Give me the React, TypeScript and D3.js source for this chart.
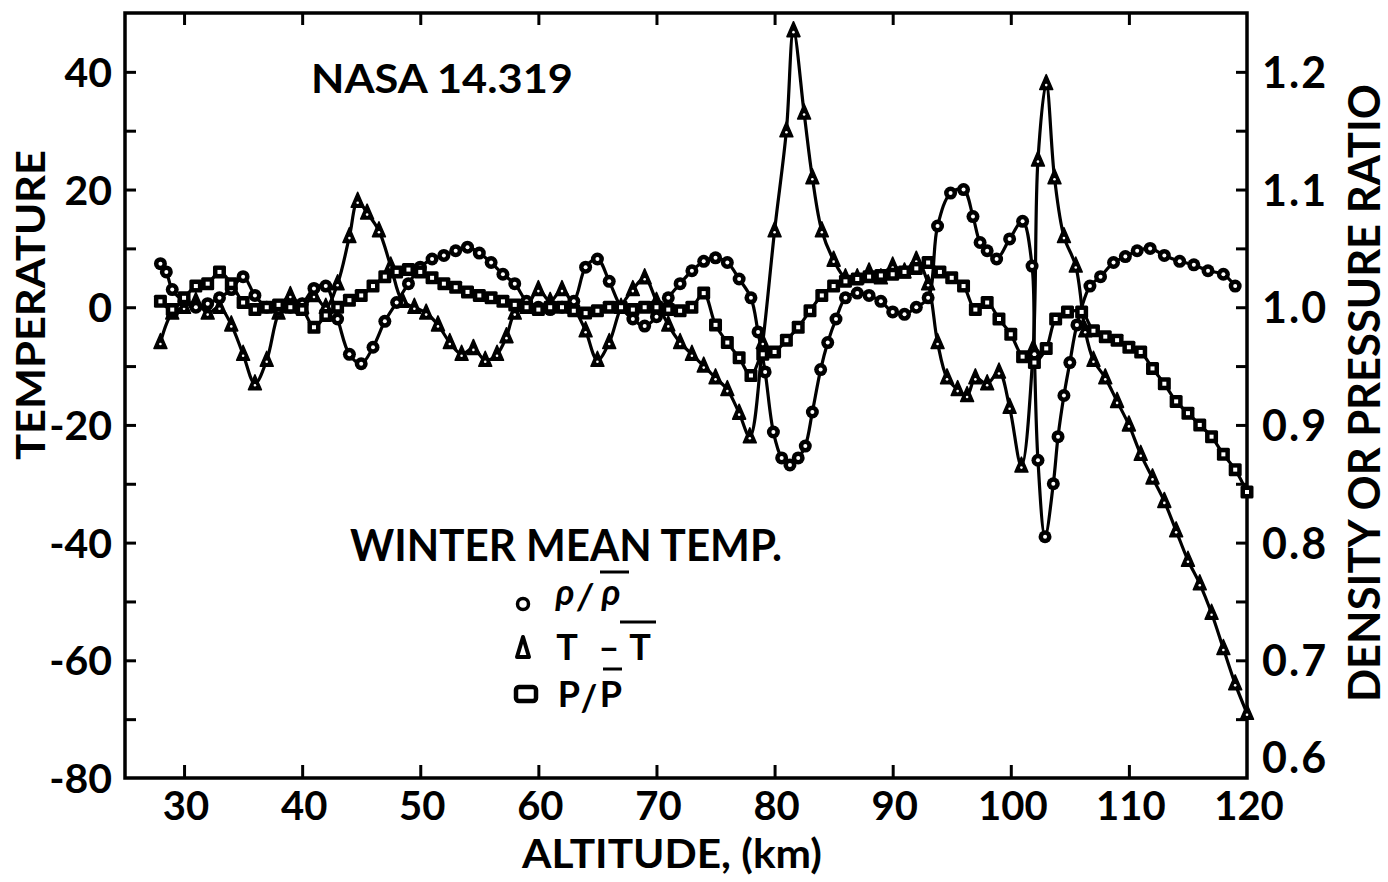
import React, { useEffect, useRef } from "react";
import * as d3 from "d3";

const W = 1388;
const H = 882;

// T - Tbar (deg), triangles, read on the left axis
const tempAlt = [28, 29, 30, 31, 32, 33, 34, 35, 36, 37, 38, 39, 40, 41, 42, 43, 44, 44.7, 45.5, 46.5, 47.5, 48.5, 49.5, 50.5, 51.5, 52.5, 53.5, 54.5, 55.5, 56.5, 57.3, 58, 59, 60, 61, 62, 63, 64, 65, 66, 67, 68, 69, 70, 71, 72, 73, 74, 75, 76, 77, 77.9, 79, 80, 81, 81.6, 82.5, 83.2, 84, 85, 86, 87, 88, 89, 90, 91, 92, 93, 93.8, 94.6, 95.5, 96.3, 97, 98, 99, 99.9, 100.9, 101.9, 102.3, 103, 103.7, 104.5, 105.5, 106.3, 107, 108, 109, 110, 111, 112, 113, 114, 115, 116, 117, 118, 119, 120];
const tempDiff = [-6, -1, 0, 1, -1, 0, -3, -8, -13, -9, -1, 2, 0, 2, 0, 4, 12, 18, 16, 13, 7, 1, 0, -1, -3, -6, -8, -7, -9, -8, -5, -1, 0, 3, 1, 3, 0, -4, -9, -6, 0, 3, 5, 1, -3, -6, -8, -10, -12, -14, -18, -22, -6, 13, 30, 47, 33, 22, 13, 8, 5, 5, 6, 5, 7, 6, 8, 4, -6, -12, -14, -15, -12, -13, -11, -17, -27, -7, 25, 38, 22, 12, 7, -4, -9, -12, -16, -20, -25, -29, -33, -38, -43, -47, -52, -58, -64, -69];

// rho / rhobar, circles, right axis
const densAlt = [28, 28.5, 29, 30, 31, 32, 33, 34, 35, 36, 37, 38, 39, 40, 41, 42, 43, 44, 45, 46, 47, 48, 49, 50, 51, 52, 53, 54, 55, 56, 57, 58, 59, 60, 61, 62, 63, 64, 65, 66, 67, 68, 69, 70, 71, 72, 73, 74, 75, 76, 77, 78, 78.6, 79.2, 79.9, 80.6, 81.3, 82, 82.6, 83.2, 83.9, 84.5, 85.2, 86, 87, 88, 89, 90, 91, 92, 93, 93.8, 94.9, 96, 96.8, 97.4, 98, 98.8, 99.9, 101, 101.8, 102, 102.3, 102.9, 103.6, 104, 104.5, 105, 105.6, 106.7, 107.6, 108.7, 109.7, 110.7, 111.8, 113, 114.3, 115.5, 116.7, 118, 119];
const densRatio = [1.037, 1.03, 1.015, 1.005, 1.0, 1.003, 1.008, 1.015, 1.026, 1.01, 1.0, 0.998, 1.0, 1.003, 1.016, 1.018, 0.99, 0.96, 0.952, 0.966, 0.988, 1.004, 1.02, 1.034, 1.041, 1.044, 1.048, 1.051, 1.046, 1.038, 1.028, 1.02, 1.005, 1.0, 0.998, 1.0, 1.005, 1.034, 1.041, 1.022, 1.0, 0.99, 0.984, 0.992, 1.008, 1.02, 1.031, 1.039, 1.042, 1.038, 1.024, 1.008, 0.979, 0.945, 0.894, 0.872, 0.866, 0.872, 0.882, 0.911, 0.947, 0.97, 0.99, 1.008, 1.012, 1.01, 1.005, 0.996, 0.994, 1.0, 1.008, 1.069, 1.097, 1.1, 1.077, 1.055, 1.048, 1.041, 1.058, 1.073, 1.035, 0.96, 0.87, 0.805, 0.85, 0.89, 0.925, 0.953, 0.985, 1.018, 1.026, 1.038, 1.043, 1.048, 1.05, 1.044, 1.039, 1.036, 1.031, 1.028, 1.018];

// P / Pbar, squares, right axis
const presAlt = [28, 29, 30, 31, 32, 33, 34, 35, 36, 37, 38, 39, 40, 41, 42, 43, 44, 45, 46, 47, 48, 49, 50, 51, 52, 53, 54, 55, 56, 57, 58, 59, 60, 61, 62, 63, 64, 65, 66, 67, 68, 69, 70, 71, 72, 73, 74, 75, 76, 77, 78, 79, 80, 81, 82, 83, 84, 85, 86, 87, 88, 89, 90, 91, 92, 93, 94, 95, 96, 97, 98, 99, 100, 101, 102, 103, 103.8, 104.8, 106, 107, 108, 109, 110, 111, 112, 113, 114, 115, 116, 117, 118, 119, 120];
const presRatio = [1.005, 0.998, 1.008, 1.018, 1.02, 1.03, 1.02, 1.004, 0.998, 1.0, 1.002, 1.0, 0.998, 0.983, 0.993, 1.0, 1.006, 1.01, 1.018, 1.026, 1.03, 1.032, 1.03, 1.025, 1.02, 1.017, 1.013, 1.01, 1.008, 1.005, 1.002, 1.0, 0.998, 1.0, 1.0, 0.997, 0.995, 0.997, 1.0, 1.0, 0.998, 1.0, 1.0, 0.998, 0.997, 1.0, 1.012, 0.985, 0.97, 0.957, 0.942, 0.96, 0.962, 0.972, 0.983, 0.997, 1.01, 1.018, 1.022, 1.024, 1.026, 1.027, 1.028, 1.03, 1.033, 1.038, 1.03, 1.025, 1.018, 0.998, 1.004, 0.99, 0.977, 0.958, 0.953, 0.965, 0.99, 0.996, 0.996, 0.98, 0.975, 0.972, 0.966, 0.962, 0.948, 0.935, 0.92, 0.91, 0.9, 0.89, 0.875, 0.862, 0.843];

const altTicks = [30, 40, 50, 60, 70, 80, 90, 100, 110, 120];
const tempTicks = [-80, -60, -40, -20, 0, 20, 40];
const ratioTicks = [0.6, 0.7, 0.8, 0.9, 1.0, 1.1, 1.2];

const FONT = "Lato, 'Liberation Sans', sans-serif";

const App = () => {
  const ref = useRef<SVGSVGElement>(null);

  useEffect(() => {
    const svg = d3.select(ref.current);
    svg.selectAll("*").remove();

    const x0 = 125, x1 = 1247, y0 = 13, y1 = 778;
    const x = d3.scaleLinear().domain([25, 120]).range([x0, x1]);
    const yT = d3.scaleLinear().domain([-80, 50]).range([y1, y0]);
    const yR = d3.scaleLinear().domain([0.6, 1.25]).range([y1, y0]);

    svg.append("rect").attr("width", W).attr("height", H).attr("fill", "#fff");

    // ticks, all pointing inward
    const tickStyle = (g) => {
      g.select(".domain").remove();
      g.selectAll("line").attr("stroke", "#000").attr("stroke-width", 3);
    };
    svg.append("g").attr("transform", `translate(${x0},0)`)
      .call(d3.axisRight(yT).tickValues(d3.range(-70, 50, 10)).tickSize(11).tickFormat(() => ""))
      .call(tickStyle);
    svg.append("g").attr("transform", `translate(${x1},0)`)
      .call(d3.axisLeft(yR).tickValues(d3.range(0.65, 1.24, 0.05)).tickSize(11).tickFormat(() => ""))
      .call(tickStyle);
    svg.append("g").attr("transform", `translate(0,${y1})`)
      .call(d3.axisTop(x).tickValues(altTicks.slice(0, -1)).tickSize(13).tickFormat(() => ""))
      .call(tickStyle);
    svg.append("g").attr("transform", `translate(0,${y0})`)
      .call(d3.axisBottom(x).tickValues(altTicks.slice(0, -1)).tickSize(12).tickFormat(() => ""))
      .call(tickStyle);

    svg.append("rect")
      .attr("x", x0).attr("y", y0).attr("width", x1 - x0).attr("height", y1 - y0)
      .attr("fill", "none").attr("stroke", "#000").attr("stroke-width", 3.5);

    const txt = (s, px, py, size, anchor = "middle") =>
      svg.append("text").attr("x", px).attr("y", py).attr("text-anchor", anchor)
        .attr("font-family", FONT).attr("font-weight", 700).attr("font-size", size)
        .attr("fill", "#000").text(s);

    // tick labels
    tempTicks.forEach((v) => txt(String(v), 112, yT(v) + 15, 41, "end"));
    ratioTicks.forEach((v, i) =>
      txt(v.toFixed(1), 1262, (i === 0 ? yR(v) - 21 : yR(v)) + 16, 43, "start").attr("letter-spacing", 2));
    altTicks.forEach((v) => txt(String(v), x(v) + 2, 820, 40));

    // axis titles
    txt("ALTITUDE, (km)", 672, 868, 40).attr("textLength", 300).attr("lengthAdjust", "spacingAndGlyphs");
    txt("TEMPERATURE", 0, 0, 41)
      .attr("transform", "translate(45,305) rotate(-90)")
      .attr("textLength", 310).attr("lengthAdjust", "spacingAndGlyphs");
    txt("DENSITY OR PRESSURE RATIO", 0, 0, 43)
      .attr("transform", "translate(1380,393) rotate(-90)")
      .attr("textLength", 618).attr("lengthAdjust", "spacingAndGlyphs");
    txt("NASA 14.319", 311, 93, 40, "start").attr("textLength", 262).attr("lengthAdjust", "spacingAndGlyphs");
    txt("WINTER MEAN TEMP.", 350, 561, 44, "start").attr("textLength", 432).attr("lengthAdjust", "spacingAndGlyphs");

    // curves
    const plot = svg.append("g");
    const series = [
      { alt: tempAlt, val: tempDiff, y: yT, kind: "tri" },
      { alt: densAlt, val: densRatio, y: yR, kind: "circ" },
      { alt: presAlt, val: presRatio, y: yR, kind: "sq" },
    ];
    series.forEach((s) => {
      const pts = s.alt.map((a, i) => [x(a), s.y(s.val[i])]);
      plot.append("path")
        .attr("d", d3.line().curve(d3.curveCatmullRom.alpha(0.5))(pts))
        .attr("fill", "none").attr("stroke", "#000").attr("stroke-width", 3.2);
    });

    // plotted markers: heavy black outlines with a small light centre
    const drawMarker = (g, kind, px, py) => {
      if (kind === "circ") {
        g.append("circle").attr("cx", px).attr("cy", py).attr("r", 6.5).attr("fill", "#000");
        g.append("circle").attr("cx", px).attr("cy", py).attr("r", 2).attr("fill", "#fff");
      } else if (kind === "sq") {
        g.append("rect").attr("x", px - 6.5).attr("y", py - 6.5).attr("width", 13).attr("height", 13)
          .attr("rx", 1.5).attr("fill", "#000");
        g.append("rect").attr("x", px - 2).attr("y", py - 2).attr("width", 4).attr("height", 4).attr("fill", "#fff");
      } else {
        g.append("path").attr("d", `M${px},${py - 9}L${px + 6.5},${py + 6}L${px - 6.5},${py + 6}Z`)
          .attr("fill", "#000").attr("stroke", "#000").attr("stroke-width", 1.5).attr("stroke-linejoin", "round");
        g.append("circle").attr("cx", px).attr("cy", py + 1.5).attr("r", 1.3).attr("fill", "#fff");
      }
    };
    series.forEach((s) => {
      s.alt.forEach((a, i) => drawMarker(plot, s.kind, x(a), s.y(s.val[i])));
    });

    // legend
    const leg = svg.append("g");
    leg.append("circle").attr("cx", 523).attr("cy", 604).attr("r", 5.5)
      .attr("fill", "#fff").attr("stroke", "#000").attr("stroke-width", 3.5);
    leg.append("path").attr("d", "M523,637L529,657L517,657Z")
      .attr("fill", "#fff").attr("stroke", "#000").attr("stroke-width", 4).attr("stroke-linejoin", "round");
    leg.append("rect").attr("x", 516).attr("y", 687).attr("width", 20).attr("height", 14).attr("rx", 3)
      .attr("fill", "#fff").attr("stroke", "#000").attr("stroke-width", 4.5);
    const lt = (s, px, py, italic = false) =>
      txt(s, px, py, 36).attr("font-style", italic ? "italic" : "normal");
    lt("ρ", 565, 605, true);
    lt("/", 585, 609, true);
    lt("ρ", 611, 605, true);
    lt("T", 567, 660);
    lt("–", 609, 660);
    lt("T", 640, 660);
    lt("P", 569, 707);
    lt("/", 589, 711);
    lt("P", 611, 707);
    const bar = (a, b, yy) => leg.append("line").attr("x1", a).attr("x2", b).attr("y1", yy).attr("y2", yy)
      .attr("stroke", "#000").attr("stroke-width", 3);
    bar(600, 629, 572);
    bar(620, 656, 622);
    bar(603, 622, 669);
  }, []);

  return (
    <svg ref={ref} width={W} height={H} style={{ position: "absolute", left: 0, top: 0, display: "block" }} />
  );
};

export default App;
